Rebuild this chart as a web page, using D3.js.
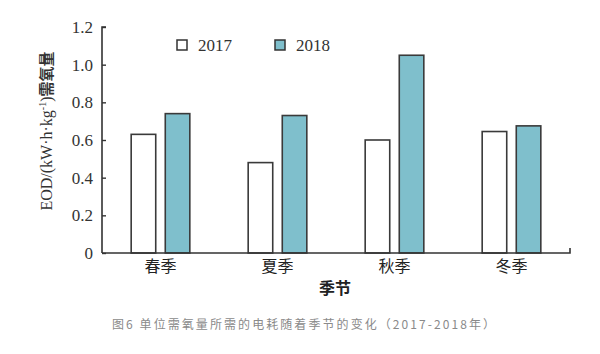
<!DOCTYPE html>
<html>
<head>
<meta charset="utf-8">
<title>单位需氧量所需的电耗随着季节的变化</title>
<script src="https://d3js.org/d3.v7.min.js"></script>
<style>
body { margin: 0; background: #fff; }
</style>
</head>
<body>
<div id="chart"></div>
<script>
var seasons = ["春季", "夏季", "秋季", "冬季"];
var years = ["2017", "2018"];
var eod2017 = [0.63, 0.48, 0.60, 0.645];
var eod2018 = [0.74, 0.73, 1.05, 0.675];
var yTicks = [0, 0.2, 0.4, 0.6, 0.8, 1.0, 1.2];

var width = 600, height = 354;
var plotLeft = 102, plotRight = 570, plotTop = 27, plotBottom = 253;
var serif = "'Liberation Serif', 'Times New Roman', serif";
var cjk = "'Noto Sans CJK SC', sans-serif";
var fills = { "2017": "#ffffff", "2018": "#7fbfcc" };

var svg = d3.select("#chart")
	.append("svg")
		.attr("width", width)
		.attr("height", height);

var x = d3.scaleBand()
	.domain(seasons)
	.range([plotLeft, plotRight]);

var xInner = d3.scaleBand()
	.domain(years)
	.range([-30, 30])
	.paddingInner(0.28)
	.paddingOuter(0.02);

var y = d3.scaleLinear()
	.domain([0, 1.2])
	.range([plotBottom, plotTop]);

var rows = seasons.map(function(s, i) {
	return { season: s, values: [
		{ year: "2017", value: eod2017[i] },
		{ year: "2018", value: eod2018[i] }
	]};
});

// bars
var groups = svg.selectAll("g.season")
	.data(rows)
	.enter()
	.append("g")
		.attr("class", "season")
		.attr("transform", function(d) { return "translate(" + (x(d.season) + x.bandwidth() / 2) + ",0)"; });

groups.selectAll("rect")
	.data(function(d) { return d.values; })
	.enter()
	.append("rect")
		.attr("x", function(d) { return xInner(d.year); })
		.attr("width", xInner.bandwidth())
		.attr("y", function(d) { return y(d.value); })
		.attr("height", function(d) { return plotBottom - y(d.value); })
		.attr("fill", function(d) { return fills[d.year]; })
		.attr("stroke", "#3a3a3a")
		.style("stroke-width", "1.6px");

// y axis, ticks pointing inward
var yAxis = svg.append("g")
	.attr("transform", "translate(" + plotLeft + ",0)")
	.call(d3.axisRight(y).tickValues(yTicks).tickSize(4).tickFormat(function(d) { return d === 0 ? "0" : d3.format(".1f")(d); }));

yAxis.select(".domain").attr("stroke", "#333").style("stroke-width", "1.6px").attr("d", "M4," + plotTop + "H0V" + plotBottom);
yAxis.selectAll(".tick line").attr("stroke", "#333").style("stroke-width", "1.4px");
yAxis.selectAll(".tick text")
	.attr("x", -9)
	.attr("text-anchor", "end")
	.style("font-family", serif)
	.style("font-size", "17px")
	.attr("fill", "#333");

// x axis
var xAxis = svg.append("g")
	.attr("transform", "translate(0," + plotBottom + ")")
	.call(d3.axisBottom(x).tickSize(0).tickPadding(8));

xAxis.select(".domain").attr("stroke", "#333").style("stroke-width", "1.6px").attr("d", "M" + plotLeft + ",0H" + plotRight + "V-5");
xAxis.selectAll(".tick text")
	.style("font-family", cjk)
	.style("font-size", "16px")
	.attr("fill", "#222");

// axis titles
svg.append("text")
	.text("季节")
	.attr("x", 335)
	.attr("y", 294)
	.attr("text-anchor", "middle")
	.style("font-family", cjk)
	.style("font-size", "16px")
	.style("font-weight", "bold")
	.attr("fill", "#222");

var yTitle = svg.append("text")
	.attr("transform", "translate(52,131) rotate(-90)")
	.attr("text-anchor", "middle")
	.attr("fill", "#333");

yTitle.append("tspan")
	.text("EOD/(kW·h·kg")
	.style("font-family", serif)
	.style("font-size", "16px");
yTitle.append("tspan")
	.text("-1")
	.attr("dy", -6)
	.style("font-family", serif)
	.style("font-size", "10px");
yTitle.append("tspan")
	.text(")")
	.attr("dy", 6)
	.style("font-family", serif)
	.style("font-size", "16px");
yTitle.append("tspan")
	.text("需氧量")
	.style("font-family", cjk)
	.style("font-size", "15px")
	.style("font-weight", "bold");

// legend
var legendX = d3.scaleOrdinal().domain(years).range([177, 275]);

var legend = svg.selectAll("g.legend")
	.data(years)
	.enter()
	.append("g")
		.attr("class", "legend")
		.attr("transform", function(d) { return "translate(" + legendX(d) + ",40)"; });

legend.append("rect")
	.attr("width", 10)
	.attr("height", 10)
	.attr("fill", function(d) { return fills[d]; })
	.attr("stroke", "#333")
	.style("stroke-width", "1.5px");

legend.append("text")
	.text(function(d) { return d; })
	.attr("x", 21)
	.attr("y", 11)
	.style("font-family", serif)
	.style("font-size", "17px")
	.attr("fill", "#333");

// caption
svg.append("text")
	.text("图6 单位需氧量所需的电耗随着季节的变化（2017-2018年）")
	.attr("x", 112)
	.attr("y", 329)
	.attr("textLength", 383)
	.style("font-family", cjk)
	.style("font-size", "12px")
	.attr("fill", "#8a8a8a");
</script>
</body>
</html>
